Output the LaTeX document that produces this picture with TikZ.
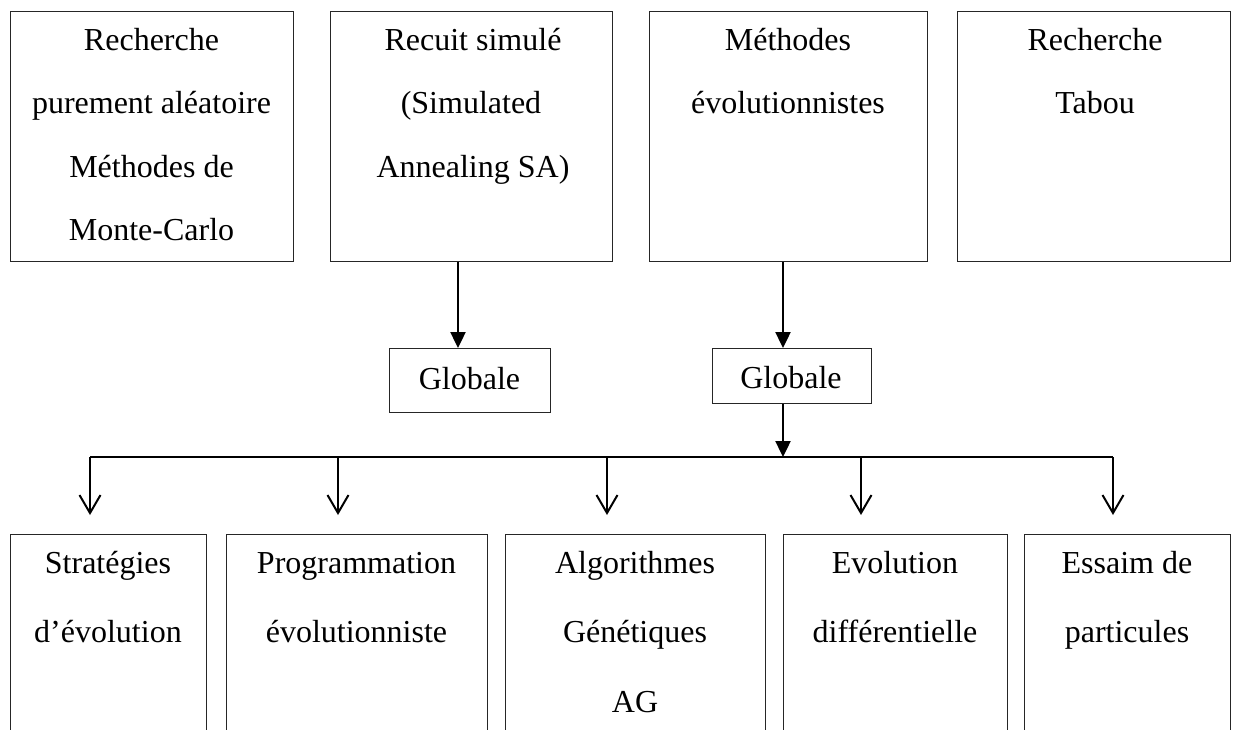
\documentclass[tikz,border=0pt]{standalone}
\usepackage{fontspec}
\setmainfont{Liberation Serif}
\usetikzlibrary{arrows.meta}
\begin{document}
\begin{tikzpicture}[x=1pt,y=-1pt,
  box/.style={draw=black!85,line width=1.2pt,inner sep=0pt,anchor=north west},
  txt/.style={anchor=base,inner sep=0pt,font=\fontsize{32}{38}\selectfont},
  solidarrow/.style={line width=2.4pt,-{Triangle[length=16pt,width=15pt]}},
  openarrow/.style={line width=2pt,-{Straight Barb[length=18pt,width=21pt,line width=2pt]}},
  busline/.style={line width=2pt}]
\useasboundingbox (0,0) rectangle (1240,729);
\clip (0,0) rectangle (1240,729);

% top row of method families
\node[box,minimum width=283pt,minimum height=250pt] (r1) at (10,11) {};
\node[box,minimum width=282pt,minimum height=250pt] (r2) at (330,11) {};
\node[box,minimum width=278pt,minimum height=250pt] (r3) at (649,11) {};
\node[box,minimum width=273pt,minimum height=250pt] (r4) at (957,11) {};

\node[txt] (r1a) at (151.5,50) {Recherche};
\node[txt] (r1b) at (151.5,113) {purement aléatoire};
\node[txt] (r1c) at (151.5,177) {Méthodes de};
\node[txt] (r1d) at (151.5,240) {Monte-Carlo};

\node[txt] (r2a) at (473,50) {Recuit simulé};
\node[txt] (r2b) at (471,113) {(Simulated};
\node[txt] (r2c) at (473,177) {Annealing SA)};

\node[txt] (r3a) at (788,50) {Méthodes};
\node[txt] (r3b) at (788,113) {évolutionnistes};

\node[txt] (r4a) at (1095,50) {Recherche};
\node[txt] (r4b) at (1095,113) {Tabou};

% "Globale" boxes
\node[box,minimum width=161pt,minimum height=64pt] (g1) at (389,348) {};
\node[box,minimum width=159pt,minimum height=55pt] (g2) at (712,348) {};
\node[txt] (g1t) at (469.5,389) {Globale};
\node[txt] (g2t) at (791,388) {Globale};

\coordinate (c1) at (458,300);
\coordinate (c2) at (783,300);
\draw[solidarrow] (r2.south -| c1) -- (g1.north -| c1);
\draw[solidarrow] (r3.south -| c2) -- (g2.north -| c2);

% distribution bus
\coordinate (busL) at (90,457);
\coordinate (busR) at (1113,457);
\draw[solidarrow] (g2.south -| c2) -- (busL -| c2);
\draw[busline] (busL) -- (busR);

% bottom row of evolutionary methods
\node[box,minimum width=196pt,minimum height=230pt] (e1) at (10,534) {};
\node[box,minimum width=261pt,minimum height=230pt] (e2) at (226,534) {};
\node[box,minimum width=260pt,minimum height=230pt] (e3) at (505,534) {};
\node[box,minimum width=224pt,minimum height=230pt] (e4) at (783,534) {};
\node[box,minimum width=206pt,minimum height=230pt] (e5) at (1024,534) {};

\coordinate (d1) at (90,500);
\coordinate (d2) at (338,500);
\coordinate (d3) at (607,500);
\coordinate (d4) at (861,500);
\coordinate (d5) at (1113,500);
\foreach \d/\e in {d1/e1,d2/e2,d3/e3,d4/e4,d5/e5}
  \draw[openarrow,shorten >=19pt] (busL -| \d) -- (\e.north -| \d);

\node[txt] (e1a) at (108,573) {Stratégies};
\node[txt] (e1b) at (108,642) {d’évolution};

\node[txt] (e2a) at (356.5,573) {Programmation};
\node[txt] (e2b) at (356.5,642) {évolutionniste};

\node[txt] (e3a) at (635,573) {Algorithmes};
\node[txt] (e3b) at (635,642) {Génétiques};
\node[txt] (e3c) at (635,712) {AG};

\node[txt] (e4a) at (895,573) {Evolution};
\node[txt] (e4b) at (895,642) {différentielle};

\node[txt] (e5a) at (1127,573) {Essaim de};
\node[txt] (e5b) at (1127,642) {particules};
\end{tikzpicture}
\end{document}
